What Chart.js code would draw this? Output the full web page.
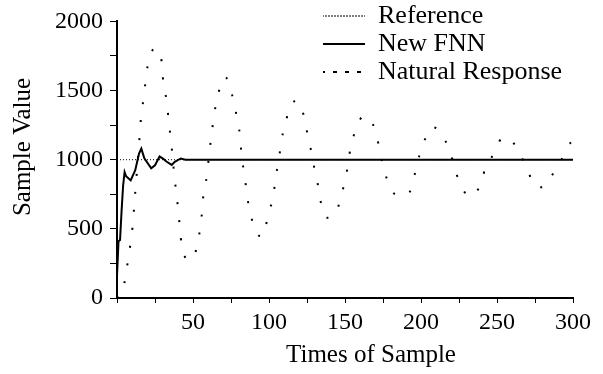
<!DOCTYPE html>
<html>
<head>
<meta charset="utf-8">
<script src="https://cdn.jsdelivr.net/npm/chart.js@4/dist/chart.umd.min.js"></script>
<style>
  html, body { margin: 0; padding: 0; background: #fff; }
  #wrap { width: 603px; height: 374px; }
</style>
</head>
<body>
<div id="wrap"><canvas id="chart"></canvas></div>
<script>
// reference (set point) line
const refTimes = [0, 300];
const refValues = [1000, 1000];

// New FNN response
const fnnTimes = [0, 1, 2, 3, 4, 5, 6, 8, 9, 12, 14.5, 16, 18, 22.5, 25, 28, 30, 32.5, 36, 38, 42, 45, 300];
const fnnValues = [160, 410, 420, 626, 810, 910, 880, 860, 850, 924, 1044, 1080, 1010, 938, 960, 1023, 1010, 987, 962, 985, 1009, 1000, 1000];

// natural (uncontrolled) response
const naturalTimes = [0, 3, 5, 7, 9, 10.5, 11.5, 12.5, 14.5, 16, 17.5, 18.5, 20, 22, 25,
  29.4, 30.4, 32.7, 34, 35.5, 38, 39.5, 40.8, 42, 43.5, 45.6, 48, 51, 54, 55.7, 56.8, 59, 60.5, 62, 64, 66, 71,
  76, 78.7, 81, 82, 84, 85.5, 88, 92, 96, 97.4, 100, 102.7, 104.4, 106.6, 108.4, 111.6, 112.5, 119,
  123.7, 126, 129, 130, 131.5, 133.6, 138, 144, 148, 151, 153, 155.5, 160, 163,
  170, 173, 176, 181, 186, 191.5, 196, 199, 204.7, 207,
  214, 218, 220, 223.5, 232, 241, 242, 246.5, 250, 253, 256, 258.6,
  264, 270.5, 274, 278, 282.7, 286, 293.6, 297, 299];
const naturalValues = [0, 20, 117, 255, 405, 545, 690, 832, 1115, 1330, 1440, 1540, 1670, 1760, 1805,
  1710, 1562, 1423, 1280, 1140, 857, 716, 575, 430, 340, 282, 275, 310, 452, 594, 740, 876, 1024, 1165, 1330, 1448, 1600,
  1457, 1316, 1165, 1025, 885, 745, 600, 465, 445, 500, 622, 728, 870, 1010, 1152, 1293, 1360, 1425,
  1280, 1140, 1003, 917, 860, 716, 580, 617, 760, 900, 1045, 1165, 1293, 1315,
  1210, 1060, 917, 770, 745, 750, 900, 1032, 1200, 1235,
  1187, 1081, 1025, 890, 735, 883, 940, 1018, 1103, 1152, 1160, 1152,
  1060, 917, 820, 800, 820, 883, 1025, 1103, 1130];

const xTicks = [50, 100, 150, 200, 250, 300];
const yTicks = [0, 500, 1000, 1500, 2000];

const xTitle = 'Times of Sample';
const yTitle = 'Sample Value';

const pairs = (xs, ys) => xs.map((x, i) => ({ x: x, y: ys[i] }));

const serif = '"Liberation Serif", "Times New Roman", serif';
Chart.defaults.font.family = serif;
Chart.defaults.color = '#000';

// put the legend in the top right corner, over the plot
const legendSpot = {
    id: 'legendSpot',
    afterLayout(chart) {
        const lg = chart.legend;
        if (!lg) return;
        const w = lg.width, h = lg.height;
        lg.left = 321;
        lg.top = 1;
        lg.right = lg.left + w;
        lg.bottom = lg.top + h;
    }
};

// axis titles, placed like the original (a bit off the plot centre)
const axisTitles = {
    id: 'axisTitles',
    afterDraw(chart) {
        const ctx = chart.ctx;
        ctx.save();
        ctx.fillStyle = '#000';
        ctx.font = '25px ' + serif;
        ctx.textAlign = 'center';
        ctx.textBaseline = 'middle';
        ctx.fillText(xTitle, 371, 355);
        ctx.translate(23, 147);
        ctx.rotate(-Math.PI / 2);
        ctx.fillText(yTitle, 0, 0);
        ctx.restore();
    }
};

new Chart(document.getElementById('chart'), {
    type: 'line',
    data: {
        datasets: [
            {
                label: 'Reference',
                data: pairs(refTimes, refValues),
                borderColor: '#000',
                borderWidth: 1,
                borderDash: [1, 2],
                pointRadius: 0,
                tension: 0
            },
            {
                label: 'New FNN',
                data: pairs(fnnTimes, fnnValues),
                borderColor: '#000',
                borderWidth: 2,
                pointRadius: 0,
                tension: 0
            },
            {
                label: 'Natural Response',
                data: pairs(naturalTimes, naturalValues),
                borderColor: '#000',
                borderWidth: 2,
                borderDash: [2, 16],
                pointRadius: 0,
                cubicInterpolationMode: 'monotone'
            }
        ]
    },
    options: {
        responsive: true,
        maintainAspectRatio: false,
        animation: false,
        layout: { padding: { top: 15, right: 30, left: 0, bottom: 0 } },
        plugins: {
            tooltip: { enabled: false },
            legend: {
                position: 'chartArea',
                align: 'start',
                labels: {
                    color: '#000',
                    boxWidth: 42,
                    boxHeight: 0,
                    padding: 2,
                    font: { size: 26 },
                    generateLabels(chart) {
                        const items = Chart.defaults.plugins.legend.labels.generateLabels(chart);
                        items.forEach(it => {
                            if (it.text === 'Natural Response') it.lineDash = [2, 10];
                        });
                        return items;
                    }
                }
            }
        },
        scales: {
            x: {
                type: 'linear',
                min: 0,
                max: 300,
                afterFit(scale) { scale.height = 76; },
                border: { display: true, color: '#000', width: 2 },
                grid: { drawOnChartArea: false, color: '#000', tickLength: 5, lineWidth: 1 },
                ticks: {
                    stepSize: 25,
                    padding: 5,
                    maxRotation: 0,
                    autoSkip: false,
                    font: { size: 24 },
                    callback: v => xTicks.includes(v) ? String(v) : ''
                }
            },
            y: {
                min: 0,
                max: 2000,
                afterFit(scale) { scale.width = 117; },
                border: { display: true, color: '#000', width: 2 },
                grid: { drawOnChartArea: false, color: '#000', tickLength: 7, lineWidth: 1 },
                ticks: {
                    stepSize: 250,
                    padding: 7,
                    autoSkip: false,
                    font: { size: 24 },
                    callback: v => yTicks.includes(v) ? String(v) : ''
                }
            }
        }
    },
    plugins: [legendSpot, axisTitles]
});
</script>
</body>
</html>
